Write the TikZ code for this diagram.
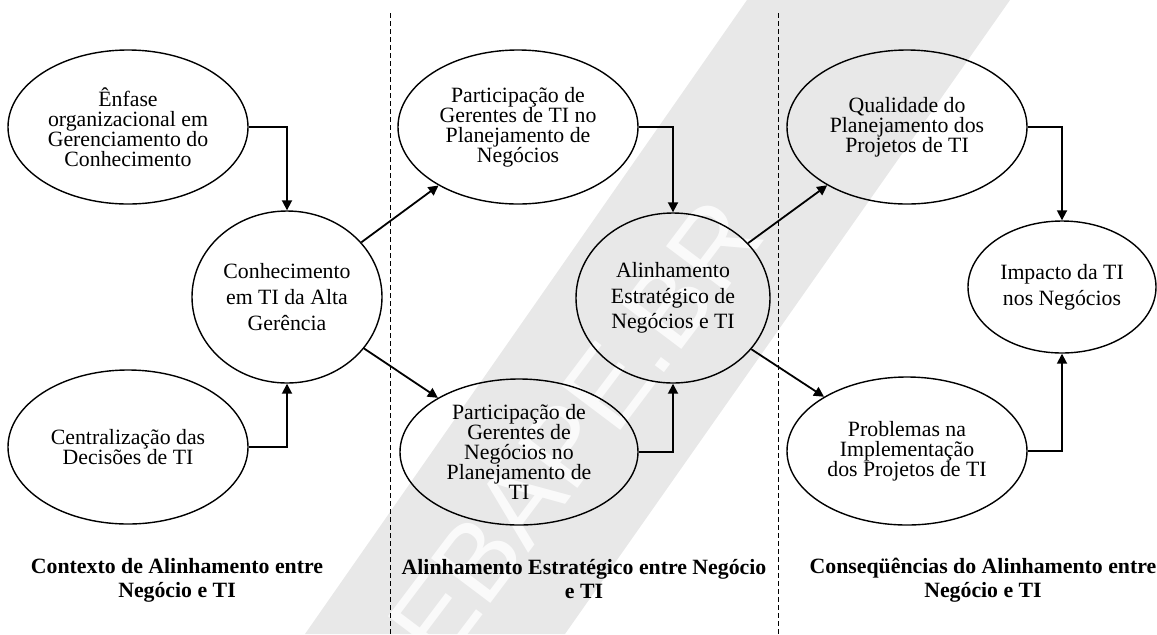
\documentclass[tikz,border=0pt]{standalone}
\usepackage{fontspec}
\setmainfont{Liberation Serif}
\newfontfamily\wmfont{Liberation Sans}
\usetikzlibrary{shapes.geometric,arrows.meta}
\begin{document}
\begin{tikzpicture}[x=0.5pt,y=-0.5pt,
  ell/.style={draw,ellipse,line width=0.7pt,inner sep=0pt,align=center,font=\fontsize{10.9}{10}\selectfont},
  circ/.style={ell,font=\fontsize{10.9}{12.8}\selectfont},
  arr/.style={line width=0.9pt,-{Triangle[length=5pt,width=5pt]}},
  sepline/.style={line width=0.5pt,dash pattern=on 2.5pt off 1.5pt},
  lab/.style={align=center,font=\fontsize{10.9}{12}\selectfont\bfseries}]
\useasboundingbox (0,0) rectangle (1157,634);
% watermark band
\fill[black!9] (747,0) -- (1010,0) -- (565,634) -- (305,634) -- cycle;
\node[rotate=53, text=white, opacity=0.8, font=\wmfont\fontsize{54}{54}\selectfont] (wm) at (575,430) {EBAPE.BR};
% separators
\coordinate (s1t) at (390,13); \coordinate (s1b) at (390,634);
\coordinate (s2t) at (778,13); \coordinate (s2b) at (778,634);
\draw[sepline] (s1t) -- (s1b);
\draw[sepline] (s2t) -- (s2b);
% nodes
\node[ell,minimum width=120pt,minimum height=77pt] (enf) at (128,127) {Ênfase\\organizacional em\\Gerenciamento do\\Conhecimento};
\node[circ,minimum width=95pt,minimum height=86pt] (conh) at (287,297) {Conhecimento\\em TI da Alta\\Gerência};
\node[ell,minimum width=120pt,minimum height=77pt] (cent) at (128,447) {Centralização das\\Decisões de TI};
\node[ell,minimum width=120pt,minimum height=77pt] (p1) at (518,127) {Participação de\\Gerentes de TI no\\Planejamento de\\Negócios};
\node[circ,minimum width=97pt,minimum height=85pt] (alin) at (673,298) {Alinhamento\\Estratégico de\\Negócios e TI};
\node[ell,minimum width=119pt,minimum height=73pt] (p2) at (519,452) {Participação de\\Gerentes de\\Negócios no\\Planejamento de\\TI};
\node[ell,minimum width=120pt,minimum height=77pt] (qual) at (907,127) {Qualidade do\\Planejamento dos\\Projetos de TI};
\node[circ,minimum width=94pt,minimum height=66pt] (imp) at (1062,287) {Impacto da TI\\nos Negócios};
\node[ell,minimum width=120pt,minimum height=74pt] (prob) at (907,451) {Problemas na\\Implementação\\dos Projetos de TI};
% connectors
\draw[arr] (enf) -| (conh);
\draw[arr] (cent) -| (conh);
\draw[arr] (conh) -- (p1);
\draw[arr] (conh) -- (p2);
\draw[arr] (p1) -| (alin);
\draw[arr] (p2) -| (alin);
\draw[arr] (alin) -- (qual);
\draw[arr] (alin) -- (prob);
\draw[arr] (qual) -| (imp);
\draw[arr] (prob) -| (imp);
% labels
\node[lab] (l1) at (177,580) {Contexto de Alinhamento entre\\Negócio e TI};
\node[lab] (l2) at (584,579) {Alinhamento Estratégico entre Negócio\\e TI};
\node[lab] (l3) at (983,580) {Conseqüências do Alinhamento entre\\Negócio e TI};
\end{tikzpicture}
\end{document}
